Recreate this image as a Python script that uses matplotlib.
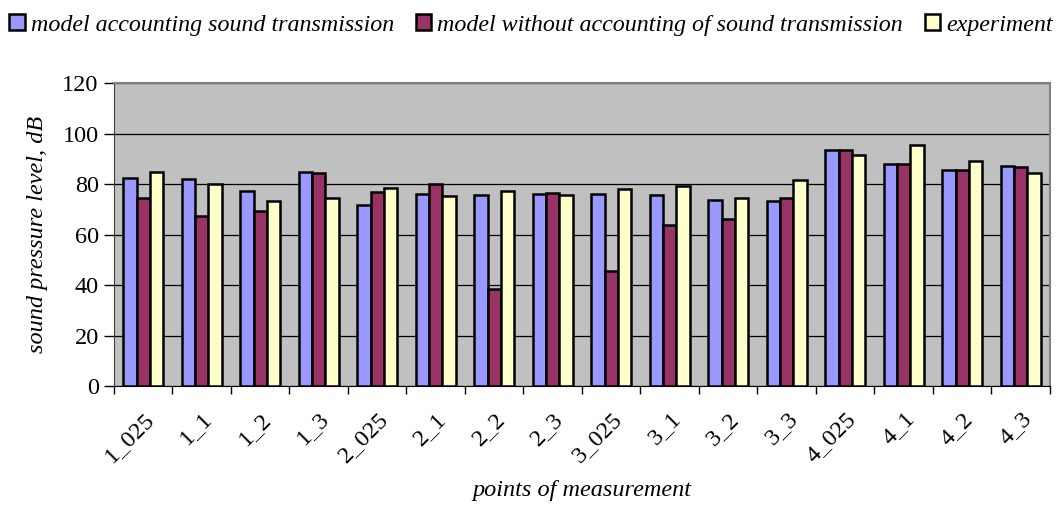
import numpy as np
import matplotlib as mpl
mpl.use('agg')
import matplotlib.pyplot as plt

## points of measurement
points = ['1_025', '1_1', '1_2', '1_3', '2_025', '2_1', '2_2', '2_3',
          '3_025', '3_1', '3_2', '3_3', '4_025', '4_1', '4_2', '4_3']

## sound pressure levels, dB
with_transmission = [82.3, 82.0, 77.3, 84.9, 71.7, 76.2, 75.6, 76.2,
                     76.2, 75.7, 73.7, 73.4, 93.5, 88.1, 85.6, 87.1]
without_transmission = [74.6, 67.5, 69.2, 84.5, 76.9, 80.2, 38.4, 76.6,
                        45.7, 63.7, 66.1, 74.4, 93.5, 88.1, 85.6, 86.9]
experiment = [84.7, 80.1, 73.4, 74.6, 78.6, 75.3, 77.4, 75.7,
              77.9, 79.1, 74.5, 81.5, 91.5, 95.5, 89.3, 84.3]

series_names = ['model accounting sound transmission',
                'model without accounting of sound transmission',
                'experiment']
colors = ['#9999FF', '#993366', '#FFFFCC']

plt.rcParams['font.family'] = ['Liberation Serif', 'DejaVu Serif']

fig = plt.figure(figsize=(10.62, 5.05), dpi=100)
ax = fig.add_axes([0.1073, 0.2356, 0.8814, 0.6000])
ax.set_facecolor('#C0C0C0')

x = np.arange(len(points))
w = 0.226
for i, (vals, name, c) in enumerate(zip([with_transmission, without_transmission, experiment],
                                        series_names, colors)):
    ax.bar(x + (i - 1) * w, vals, width=w, color=c, edgecolor='black',
           linewidth=1.8, label=name, zorder=3)

ax.set_xlim(-0.5, len(points) - 0.5)
ax.set_ylim(0, 120)
ax.set_yticks(range(0, 121, 20))
ax.yaxis.grid(True, color='black', linewidth=0.9, zorder=1)
ax.set_axisbelow(True)

## group boundaries carry the tick marks, labels sit under group centres
ax.set_xticks(np.arange(-0.5, len(points), 1.0))
ax.set_xticklabels([])
ax.set_xticks(x, minor=True)
ax.set_xticklabels(points, minor=True, rotation=45, ha='right',
                   rotation_mode='anchor', fontsize=17.5)
ax.tick_params(axis='x', which='minor', length=0, pad=16)
ax.tick_params(axis='x', which='major', length=6, width=1, direction='out')
ax.tick_params(axis='y', length=7, width=1, direction='out', labelsize=17.5, pad=4)

for s in ['top', 'right']:
    ax.spines[s].set_color('#808080')
    ax.spines[s].set_linewidth(1.5)
ax.spines['left'].set_color('#404040')
ax.spines['bottom'].set_color('black')

ax.set_ylabel('sound pressure level, dB', fontsize=17.5, style='italic', labelpad=10)
ax.set_xlabel('points of measurement', fontsize=17.5, style='italic', labelpad=10)

fig.legend(loc='upper center', bbox_to_anchor=(0.5, 1.0), ncol=3, frameon=False,
           prop={'style': 'italic', 'size': 17.3}, handlelength=0.65, handleheight=0.65,
           handletextpad=0.25, columnspacing=0.9, borderaxespad=0.2)

fig.savefig('out.png', dpi=100)
